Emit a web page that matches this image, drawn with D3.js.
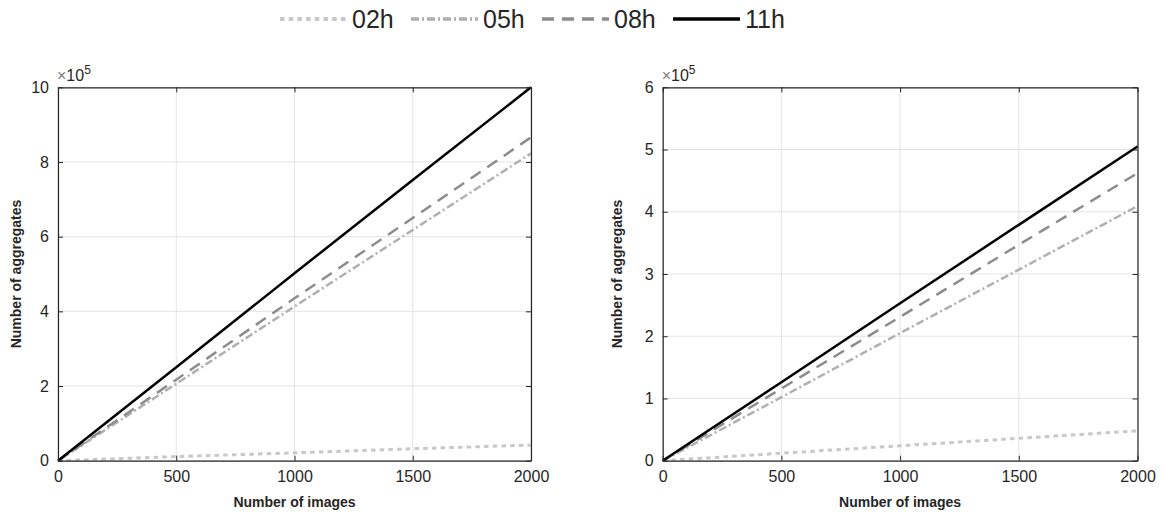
<!DOCTYPE html>
<html>
<head>
<meta charset="utf-8">
<script src="https://cdn.jsdelivr.net/npm/d3@7"></script>
<style>
  body { margin: 0; background: #fff; }
  svg { font-family: "Liberation Sans", Arial, sans-serif; }
</style>
</head>
<body>
<svg width="1166" height="521"></svg>
<script>
// data (values in units of 1e5 aggregates)
var images = [0, 500, 1000, 1500, 2000];
var seriesNames = ["02h", "05h", "08h", "11h"];
var leftValues = {
  "02h": [0, 0.11, 0.21, 0.32, 0.42],
  "05h": [0, 2.06, 4.13, 6.18, 8.23],
  "08h": [0, 2.17, 4.35, 6.50, 8.66],
  "11h": [0, 2.50, 5.02, 7.52, 10.0]
};
var rightValues = {
  "02h": [0, 0.12, 0.24, 0.36, 0.48],
  "05h": [0, 1.02, 2.05, 3.07, 4.09],
  "08h": [0, 1.16, 2.31, 3.47, 4.62],
  "11h": [0, 1.26, 2.53, 3.79, 5.05]
};
var xTicks = [0, 500, 1000, 1500, 2000];
var leftYTicks = [0, 2, 4, 6, 8, 10];
var rightYTicks = [0, 1, 2, 3, 4, 5, 6];

var styles = {
  "02h": { color: "#c8c8c8", width: 3, dash: "4.5,4.2" },
  "05h": { color: "#b0b0b0", width: 2.5, dash: "8,3,2,3" },
  "08h": { color: "#8c8c8c", width: 2.5, dash: "12,8" },
  "11h": { color: "#000000", width: 2.5, dash: null }
};

var svg = d3.select("svg");
var axisColor = "#262626";
var fmt = d3.format("d");

function drawPanel(x0, x1, y0, y1, values, yTicks, yMax, labelX) {
  var x = d3.scaleLinear().domain([0, 2000]).range([x0, x1]);
  var y = d3.scaleLinear().domain([0, yMax]).range([y1, y0]);
  var g = svg.append("g");

  // grid
  g.selectAll(".vg").data(xTicks).enter().append("line")
    .attr("x1", function(d){ return x(d); }).attr("x2", function(d){ return x(d); })
    .attr("y1", y0).attr("y2", y1)
    .attr("stroke", "#e3e3e3").attr("stroke-width", 1);
  g.selectAll(".hg").data(yTicks).enter().append("line")
    .attr("y1", function(d){ return y(d); }).attr("y2", function(d){ return y(d); })
    .attr("x1", x0).attr("x2", x1)
    .attr("stroke", "#e3e3e3").attr("stroke-width", 1);

  // lines
  var line = d3.line()
    .x(function(d){ return x(d[0]); })
    .y(function(d){ return y(d[1]); });
  seriesNames.forEach(function(name){
    var pts = images.map(function(v, i){ return [v, values[name][i]]; });
    var st = styles[name];
    g.append("path")
      .datum(pts)
      .attr("d", line)
      .attr("fill", "none")
      .attr("stroke", st.color)
      .attr("stroke-width", st.width)
      .attr("stroke-dasharray", st.dash);
  });

  // axes (box with inward ticks)
  var bottom = d3.axisBottom(x).tickValues(xTicks).tickFormat(fmt).tickSizeInner(-5).tickSizeOuter(0).tickPadding(10);
  var top = d3.axisTop(x).tickValues(xTicks).tickSizeInner(-5).tickSizeOuter(0).tickFormat("");
  var left = d3.axisLeft(y).tickValues(yTicks).tickFormat(fmt).tickSizeInner(-5).tickSizeOuter(0).tickPadding(9);
  var right = d3.axisRight(y).tickValues(yTicks).tickSizeInner(-5).tickSizeOuter(0).tickFormat("");

  [[bottom, "translate(0," + y1 + ")"], [top, "translate(0," + y0 + ")"],
   [left, "translate(" + x0 + ",0)"], [right, "translate(" + x1 + ",0)"]].forEach(function(a){
    var ag = g.append("g").attr("transform", a[1]).call(a[0]);
    ag.select(".domain").attr("stroke", axisColor).attr("stroke-width", 1.2);
    ag.selectAll(".tick line").attr("stroke", axisColor);
    ag.selectAll("text").attr("fill", axisColor).style("font-size", "16px")
      .style("font-family", "'Liberation Sans', Arial, sans-serif");
  });

  // exponent
  var ex = g.append("text").attr("x", x0 - 1).attr("y", y0 - 6)
    .attr("fill", axisColor).style("font-size", "16px");
  ex.append("tspan").attr("fill", "#7a7a7a").text("\u00d7");
  ex.append("tspan").text("10");
  ex.append("tspan").attr("dy", -7).style("font-size", "12px").text("5");

  // axis titles
  g.append("text")
    .attr("x", (x0 + x1) / 2).attr("y", y1 + 46)
    .attr("text-anchor", "middle")
    .attr("fill", axisColor)
    .style("font-size", "14px").style("font-weight", "bold")
    .text("Number of images");
  g.append("text")
    .attr("transform", "translate(" + labelX + "," + ((y0 + y1) / 2) + ") rotate(-90)")
    .attr("text-anchor", "middle")
    .attr("fill", axisColor)
    .style("font-size", "14px").style("font-weight", "bold")
    .text("Number of aggregates");
}

drawPanel(58, 531, 87.3, 460.7, leftValues, leftYTicks, 10, 21);
drawPanel(662.7, 1137.5, 87.3, 460.7, rightValues, rightYTicks, 6, 622);

// legend
var legendX = [280, 411, 542, 673];
var leg = svg.append("g");
seriesNames.forEach(function(name, i){
  var st = styles[name];
  leg.append("line")
    .attr("x1", legendX[i]).attr("x2", legendX[i] + 67)
    .attr("y1", 19).attr("y2", 19)
    .attr("stroke", st.color).attr("stroke-width", st.width + 1)
    .attr("stroke-dasharray", st.dash);
  leg.append("text")
    .attr("x", legendX[i] + 72).attr("y", 28)
    .attr("fill", axisColor)
    .style("font-size", "25px")
    .text(name);
});
</script>
</body>
</html>
